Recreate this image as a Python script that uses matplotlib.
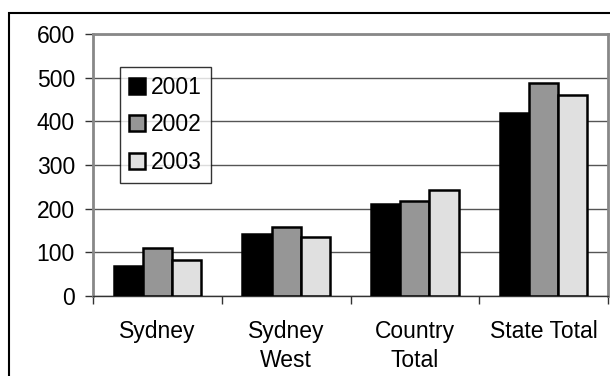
import matplotlib.pyplot as plt
import numpy as np
from matplotlib.patches import Rectangle

plt.rcParams['font.family'] = ['Liberation Sans', 'DejaVu Sans']

categories = ["Sydney", "Sydney\nWest", "Country\nTotal", "State Total"]
years = ["2001", "2002", "2003"]
v2001 = [68, 141, 210, 418]
v2002 = [109, 159, 217, 488]
v2003 = [82, 136, 243, 460]
colors = ["#000000", "#969696", "#e0e0e0"]

fig = plt.figure(figsize=(6.10, 3.76), dpi=100)
ax = fig.add_axes([93 / 610, 1 - 296 / 376, 515 / 610, 262 / 376])

x = np.arange(len(categories))
w = 0.227
for i, (vals, lab) in enumerate(zip([v2001, v2002, v2003], years)):
    ax.bar(x + (i - 1) * w, vals, w, color=colors[i], edgecolor="black",
           linewidth=1.8, label=lab, zorder=3)

ax.set_xlim(-0.5, len(categories) - 0.5)
ax.set_ylim(0, 600)
ax.set_yticks(range(0, 601, 100))
ax.yaxis.grid(True, color="#555555", linewidth=1, zorder=0)
ax.set_axisbelow(True)

ax.set_xticks(np.arange(-0.5, len(categories)), minor=False)
ax.set_xticklabels([])
ax.set_xticks(x, minor=True)
ax.set_xticklabels(categories, minor=True, fontsize=16.5, linespacing=1.35)
ax.tick_params(axis="x", which="minor", length=0, pad=17)
ax.tick_params(axis="x", which="major", length=6, width=1, color="#333333")
ax.tick_params(axis="y", length=6, width=1, color="#333333", labelsize=16.5, pad=7)

for s in ["top", "right", "left"]:
    ax.spines[s].set_color("#888888")
    ax.spines[s].set_linewidth(2)
ax.spines["bottom"].set_color("#333333")
ax.spines["bottom"].set_linewidth(1)

leg = ax.legend(loc="upper left", bbox_to_anchor=(27 / 515, 229 / 262),
                fontsize=16.5, frameon=True, fancybox=False, edgecolor="black",
                handlelength=0.7, handleheight=0.7, handletextpad=0.25,
                labelspacing=0.62, borderpad=0.4, borderaxespad=0)
leg.get_frame().set_linewidth(1)

fig.patches.append(Rectangle((9 / 610, -0.1), 1.1, 1.1 - 13 / 376,
                             transform=fig.transFigure, fill=False,
                             edgecolor="black", linewidth=1.5))

fig.savefig("out.png", dpi=100)
